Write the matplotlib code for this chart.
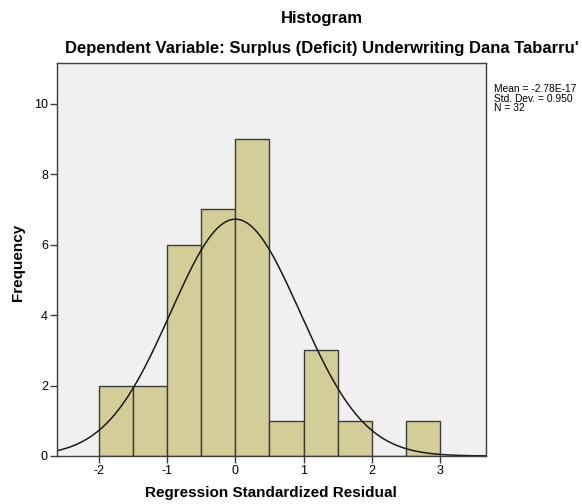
import numpy as np
import matplotlib
matplotlib.use('Agg')
import matplotlib.pyplot as plt

# Datos del histograma (intervalos de 0.5)
bin_edges = [-2.0, -1.5, -1.0, -0.5, 0.0, 0.5, 1.0, 1.5, 2.0, 2.5, 3.0]
frecuencias = [2, 2, 6, 7, 9, 1, 3, 1, 0, 1]
media = -2.78e-17
desv = 0.950
n = 32
estadisticas = ['Mean = -2.78E-17', 'Std. Dev. = 0.950', 'N = 32']

plt.rcParams['font.family'] = ['Liberation Sans', 'DejaVu Sans']
plt.rcParams['axes.unicode_minus'] = False

W, H = 582, 504
fig = plt.figure(figsize=(W / 100, H / 100), dpi=100)
# caja del grafico: x 57..486 px, y 63..456 px
ax = fig.add_axes([57 / W, 1 - 456 / H, (486 - 57) / W, (456 - 63) / H])
ax.set_facecolor('#f0f0f0')

anchos = np.diff(bin_edges)
ax.bar(bin_edges[:-1], frecuencias, width=anchos, align='edge',
       color='#d3ce98', edgecolor='#3c3c3c', linewidth=1.0)

# Curva normal escalada
xmin, xmax = -2.62, 3.68
xs = np.linspace(xmin, xmax, 400)
ys = n * 0.5 / (desv * np.sqrt(2 * np.pi)) * np.exp(-0.5 * ((xs - media) / desv) ** 2)
ax.plot(xs, ys, color='#1a1a1a', linewidth=1.1)

ax.set_xlim(xmin, xmax)
ax.set_ylim(0, 11.15)
ax.set_xticks([-2, -1, 0, 1, 2, 3])
ax.set_yticks([0, 2, 4, 6, 8, 10])
ax.tick_params(direction='out', length=5, width=1, color='#3c3c3c', labelsize=9, pad=1.5)
for s in ax.spines.values():
    s.set_color('#3c3c3c')
    s.set_linewidth(1.0)

fig.text(270.5 / W, 1 - 493 / H, 'Regression Standardized Residual', ha='center', va='center',
         fontsize=11, fontweight='bold')
fig.text(18 / W, 1 - 262 / H, 'Frequency', ha='center', va='center', rotation=90,
         fontsize=11, fontweight='bold')

fig.text(322 / W, 1 - 19 / H, 'Histogram', ha='center', va='center', fontsize=12, fontweight='bold')
fig.text(322 / W, 1 - 49 / H, "Dependent Variable: Surplus (Deficit) Underwriting Dana Tabarru'",
         ha='center', va='center', fontsize=12, fontweight='bold')

for i, linea in enumerate(estadisticas):
    fig.text(494 / W, 1 - (89 + 9.5 * i) / H, linea, ha='left', va='center', fontsize=7.4)

fig.savefig('out.png', dpi=100)
